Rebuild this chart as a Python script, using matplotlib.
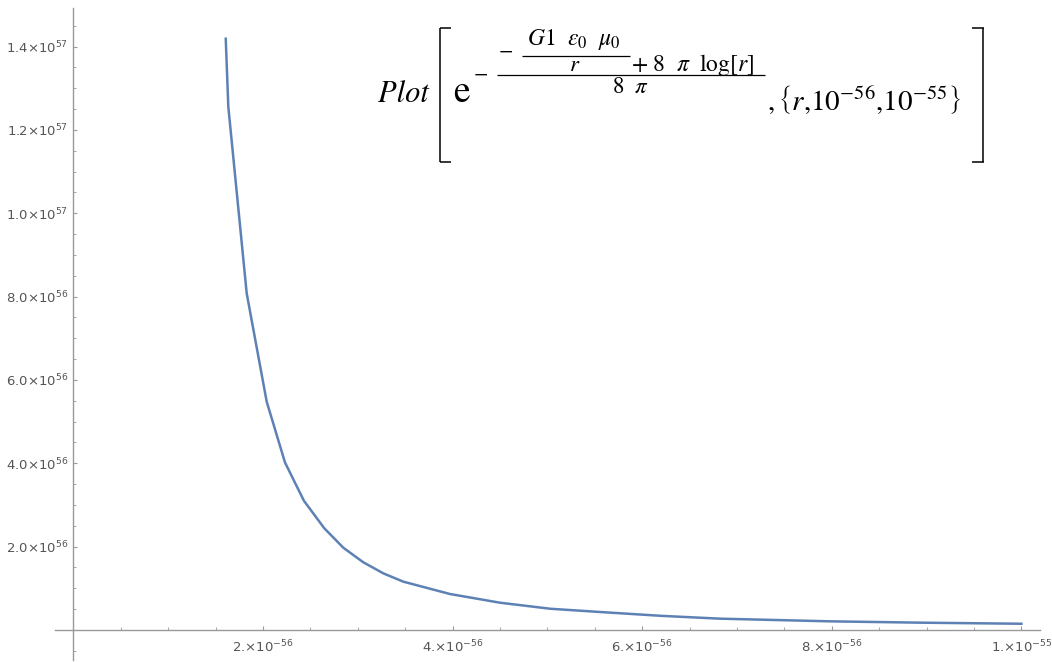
import matplotlib
matplotlib.use("Agg")
import matplotlib.pyplot as plt
from matplotlib.lines import Line2D
from matplotlib.ticker import MultipleLocator, FixedLocator

# r in units of 1e-56, value in units of 1e56
r_vals = [1.607, 1.634, 1.828, 2.039, 2.232, 2.432, 2.647, 2.847, 3.058, 3.269,
          3.48, 3.972, 4.5, 5.03, 5.555, 6.2, 6.82, 7.4, 7.98, 8.93, 10.0]
y_vals = [14.19, 12.56, 8.08, 5.48, 4.02, 3.10, 2.44, 1.975, 1.625, 1.36,
          1.16, 0.864, 0.655, 0.51, 0.432, 0.34, 0.272, 0.24, 0.208, 0.176, 0.15]

x_ticks = [2, 4, 6, 8, 10]
x_labels = ["2.×10$^{-56}$", "4.×10$^{-56}$", "6.×10$^{-56}$", "8.×10$^{-56}$", "1.×10$^{-55}$"]
y_ticks = [2, 4, 6, 8, 10, 12, 14]
y_labels = ["2.0×10$^{56}$", "4.0×10$^{56}$", "6.0×10$^{56}$", "8.0×10$^{56}$",
            "1.0×10$^{57}$", "1.2×10$^{57}$", "1.4×10$^{57}$"]

plt.rcParams["mathtext.fontset"] = "stix"

W, H = 1052, 662
fig = plt.figure(figsize=(W / 100, H / 100), dpi=100)
L, R, T, B = 55, 1040, 8, 660
ax = fig.add_axes([L / W, 1 - B / H, (R - L) / W, (B - T) / H])

xpx0, xpx_per = 73.4, 94.8
ypx0, ypx_per = 630.0, 41.67
ax.set_xlim((L - xpx0) / xpx_per, (R - xpx0) / xpx_per)
ax.set_ylim((ypx0 - B) / ypx_per, (ypx0 - T) / ypx_per)

ax.plot(r_vals, y_vals, color="#5E81B5", lw=1.8, solid_joinstyle="round")

axis_col = "#999999"
for s in ["top", "right"]:
    ax.spines[s].set_visible(False)
ax.spines["left"].set_position(("data", 0))
ax.spines["bottom"].set_position(("data", 0))
for s in ["left", "bottom"]:
    ax.spines[s].set_color(axis_col)
    ax.spines[s].set_linewidth(1.0)

ax.xaxis.set_major_locator(FixedLocator(x_ticks))
ax.set_xticklabels(x_labels)
ax.xaxis.set_minor_locator(MultipleLocator(0.5))
ax.yaxis.set_major_locator(FixedLocator(y_ticks))
ax.set_yticklabels(y_labels)
ax.yaxis.set_minor_locator(MultipleLocator(0.5))

ax.tick_params(axis="both", which="major", direction="in", length=3.2, width=0.8,
               color=axis_col, labelsize=9.5, labelcolor="#555555")
ax.tick_params(axis="both", which="minor", direction="in", length=2.0, width=0.6,
               color=axis_col)
ax.tick_params(axis="x", which="major", pad=6)
ax.tick_params(axis="y", which="major", pad=4)
for lab in ax.get_xticklabels() + ax.get_yticklabels():
    lab.set_family("DejaVu Sans")
    lab.set_math_fontfamily("dejavusans")


# ---- typeset expression (pixel helpers) ----
def fx(px):
    return px / W


def fy(py):
    return 1 - py / H


def txt(px, py, s, size, ha="left", va="baseline", **kw):
    fig.text(fx(px), fy(py), s, fontsize=size, ha=ha, va=va, color="black",
             family="STIXGeneral", **kw)


def seg(x0, y0, x1, y1, lw=1.1):
    fig.add_artist(Line2D([fx(x0), fx(x1)], [fy(y0), fy(y1)], color="black",
                          lw=lw, transform=fig.transFigure, solid_capstyle="butt"))


txt(378, 102, "Plot", 22, style="italic")
# left bracket
seg(440, 27.5, 440, 162)
seg(439.5, 28, 451, 28)
seg(439.5, 161.5, 451, 161.5)
txt(453, 102, "e", 27)
txt(474, 74.5, "−", 15, va="center")
# exponent fraction
seg(497, 75, 765, 75, lw=0.9)
txt(499, 52, "−", 15, va="center")
txt(574, 45, r"$G1\ \ \varepsilon_0\ \ \mu_0$", 17, ha="center")
seg(522, 55.7, 630, 55.7, lw=0.9)
txt(575, 71, r"$r$", 16.5, ha="center")
txt(631, 71, r"$+\ 8\ \ \pi\ \ \mathrm{log}\left[r\right]$", 17)
txt(630, 93, r"$8\ \ \pi$", 16.5, ha="center")
txt(767, 110, r"$,\left\{r\mathrm{,}10^{-56}\mathrm{,}10^{-55}\right\}$", 21)
# right bracket
seg(983, 27.5, 983, 162)
seg(972, 28, 983.5, 28)
seg(972, 161.5, 983.5, 161.5)

fig.savefig("out.png", dpi=100)
